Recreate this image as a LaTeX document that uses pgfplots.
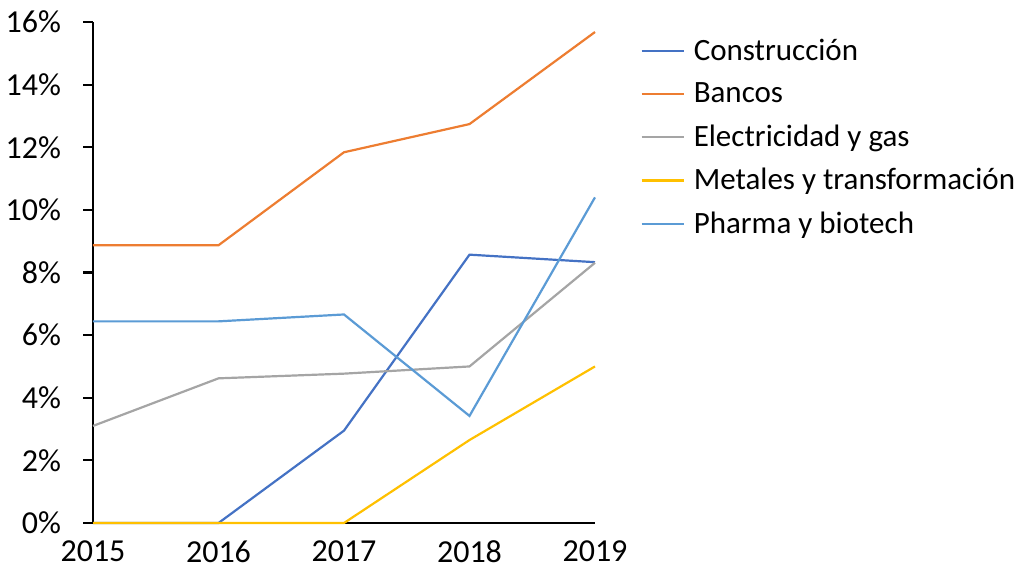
\documentclass[border=0pt]{standalone}
\usepackage{pgfplots}
\pgfplotsset{compat=1.18}
\usepackage{fontspec}
\setmainfont{Carlito}
\definecolor{cConst}{HTML}{4472C4}
\definecolor{cBanc}{HTML}{ED7D31}
\definecolor{cElec}{HTML}{A5A5A5}
\definecolor{cMet}{HTML}{FFC000}
\definecolor{cPharma}{HTML}{5B9BD5}
\begin{document}
\begin{tikzpicture}
\begin{axis}[
  scale only axis,
  width=251pt, height=250.5pt,
  xmin=2015, xmax=2019,
  ymin=0, ymax=16,
  axis x line=bottom, axis y line=left,
  axis line style={black, line width=1.1pt, -},
  xtick={2015,2016,2017,2018,2019},
  ytick={0,2,4,6,8,10,12,14,16},
  every tick/.style={black, line width=1.1pt},
  every x tick/.style={draw=none},
  ytick align=outside,
  major tick length=5pt,
  /pgf/number format/assume math mode=true,
  xticklabel style={/pgf/number format/1000 sep={}, font=\fontsize{16}{19}\selectfont, yshift=-3pt},
  yticklabel={\pgfmathprintnumber{\tick}\%},
  yticklabel style={font=\fontsize{16}{19}\selectfont, xshift=-7.5pt},
  legend style={at={(axis description cs:1.09,0.975)}, anchor=north west, draw=none, fill=none,
    font=\fontsize{15.5}{18}\selectfont, row sep=5.6pt, inner sep=0pt,
    nodes={inner xsep=4.5pt}},
  legend cell align=left,
  legend image code/.code={\draw[#1] (0pt,0pt) -- (21pt,0pt);},
  every axis plot/.append style={line width=1.1pt},
  clip=false,
]
\addplot[cConst] coordinates {(2015,0) (2016,0) (2017,2.95) (2018,8.57) (2019,8.33)};
\addlegendentry{Construcción}
\addplot[cBanc] coordinates {(2015,8.87) (2016,8.87) (2017,11.84) (2018,12.74) (2019,15.68)};
\addlegendentry{Bancos}
\addplot[cElec] coordinates {(2015,3.1) (2016,4.62) (2017,4.77) (2018,5.0) (2019,8.31)};
\addlegendentry{Electricidad y gas}
\addplot[cMet] coordinates {(2015,0) (2016,0) (2017,0) (2018,2.65) (2019,5.0)};
\addlegendentry{Metales y transformación}
\addplot[cPharma] coordinates {(2015,6.44) (2016,6.44) (2017,6.66) (2018,3.42) (2019,10.4)};
\addlegendentry{Pharma y biotech}
\pgfplotsinvokeforeach{0,2,4,6,8,10,12,14,16}{
  \draw[black, line width=1.1pt] (axis cs:2015,#1) -- ++(-4.5pt,0pt);
}
\end{axis}
\pgfresetboundingbox
\path[use as bounding box] ([xshift=-46.5pt,yshift=-23.5pt]current axis.south west) rectangle ++(511.5pt,285pt);
\end{tikzpicture}
\end{document}
